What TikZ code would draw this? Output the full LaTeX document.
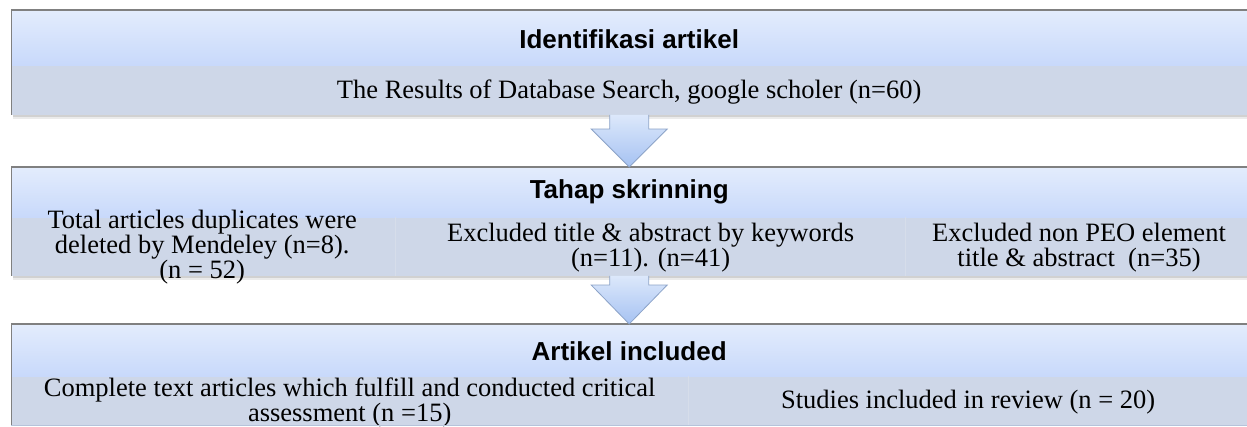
\documentclass[tikz,border=0pt]{standalone}
\usepackage{fontspec}
\setmainfont{Liberation Serif}
\newfontfamily\hdrfont{Liberation Sans}
\usetikzlibrary{calc}
\definecolor{hdrtop}{HTML}{E3ECFC}
\definecolor{hdrbot}{HTML}{C8D9FB}
\definecolor{bandc}{HTML}{CED7E8}
\definecolor{divc}{HTML}{D6DDEA}
\definecolor{edgec}{HTML}{808080}
\definecolor{arrtop}{HTML}{DCE8FB}
\definecolor{arrbot}{HTML}{A6C2F2}
\definecolor{arredge}{HTML}{8CA3C8}
\tikzset{
  hdr/.style={anchor=north west, inner sep=0pt, top color=hdrtop, bottom color=hdrbot,
    font=\hdrfont\bfseries\fontsize{26}{28}\selectfont, text=black},
  band/.style={anchor=north west, inner sep=0pt, fill=bandc, text=black},
  btext/.style={align=center, font=\fontsize{26.5}{25}\selectfont, inner sep=0pt},
  blockarrow/.style={top color=arrtop, bottom color=arrbot, draw=arredge, line width=0.8pt, line join=miter},
  topedge/.style={draw=edgec, line width=1.4pt},
  divider/.style={draw=divc, line width=0.8pt}
}
\begin{document}
\begin{tikzpicture}[x=1pt,y=-1pt]
\useasboundingbox (0,0) rectangle (1247,426);
\fill[white] (0,0) rectangle (1247,426);

% ---------- panel 1
\fill[black!18] (13,114) rectangle (1247,117);
\fill[black!8] (13,117) rectangle (1247,119);
\node[hdr, minimum width=1236pt, minimum height=55pt] (h1) at (11,10) {};
\node at ($(h1.center)+(0,1.5)$) [font=\hdrfont\bfseries\fontsize{26}{28}\selectfont] (t1) {Identifikasi artikel};
\node[band, minimum width=1236pt, minimum height=49pt] (b1) at (h1.south west) {};
\node[btext] (x1) at ($(b1.center)+(0,1.5)$) {The Results of Database Search, google scholer (n=60)};
\draw[topedge] (h1.north west) -- (h1.north east);
\draw[draw=edgec, line width=0.8pt] (h1.north west) -- (b1.south west);

% ---------- panel 2
\fill[black!18] (13,275) rectangle (1247,278);
\fill[black!8] (13,278) rectangle (1247,280);
\node[hdr, minimum width=1236pt, minimum height=50pt] (h2) at (11,167) {};
\node[font=\hdrfont\bfseries\fontsize{26}{28}\selectfont] (t2) at ($(h2.center)+(0,0)$) {Tahap skrinning};
\node[band, minimum width=384pt, minimum height=58pt] (c21) at (h2.south west) {};
\node[band, minimum width=510pt, minimum height=58pt] (c22) at (c21.north east) {};
\node[band, minimum width=342pt, minimum height=58pt] (c23) at (c22.north east) {};
\draw[divider] (c21.north east) -- (c21.south east);
\draw[divider] (c22.north east) -- (c22.south east);
\node[btext] (x21) at ($(c21.center)+(-1,1)$) {Total articles duplicates were\\deleted by Mendeley (n=8).\\(n = 52)};
\node[btext] (x22) at ($(c22.center)+(0,1)$) {Excluded title \& abstract by keywords\\(n=11). (n=41)};
\node[btext] (x23) at ($(c23.center)+(2,1)$) {Excluded non PEO element\\title \& abstract\ \ (n=35)};
\draw[topedge] (h2.north west) -- (h2.north east);
\draw[draw=edgec, line width=0.8pt] (h2.north west) -- (c21.south west);

% ---------- panel 3
\node[hdr, minimum width=1236pt, minimum height=52pt] (h3) at (11,324) {};
\node[font=\hdrfont\bfseries\fontsize{26}{28}\selectfont] (t3) at ($(h3.center)+(0,1)$) {Artikel included};
\node[band, minimum width=677pt, minimum height=49pt] (c31) at (h3.south west) {};
\node[band, minimum width=559pt, minimum height=49pt] (c32) at (c31.north east) {};
\draw[divider] (c31.north east) -- (c31.south east);
\node[btext, font=\fontsize{26.5}{23}\selectfont] (x31) at ($(c31.center)+(0,1)$) {Complete text articles which fulfill and conducted critical\\assessment (n =15)};
\node[btext] (x32) at ($(c32.center)+(0,1)$) {Studies included in review (n = 20)};
\draw[topedge] (h3.north west) -- (h3.north east);
\draw[draw=edgec, line width=0.8pt] (h3.north west) -- (c31.south west);
\draw[draw=arrbot!80!black!60, line width=1.2pt] (c31.south west) -- (c32.south east);

% ---------- block arrows
\coordinate (a1s) at (b1.south);
\coordinate (a1e) at (h2.north);
\draw[blockarrow] ($(a1s)+(-19.5,0)$) -- ($(a1e)+(-19.5,-38)$) -- ($(a1e)+(-38,-38)$) -- (a1e)
  -- ($(a1e)+(38,-38)$) -- ($(a1e)+(19.5,-38)$) -- ($(a1s)+(19.5,0)$);
\coordinate (a2s) at (c22.south -| b1.south);
\coordinate (a2e) at (h3.north);
\draw[blockarrow] ($(a2s)+(-19.5,0)$) -- ($(a2e)+(-19.5,-39)$) -- ($(a2e)+(-38,-39)$) -- (a2e)
  -- ($(a2e)+(38,-39)$) -- ($(a2e)+(19.5,-39)$) -- ($(a2s)+(19.5,0)$);
\end{tikzpicture}
\end{document}
